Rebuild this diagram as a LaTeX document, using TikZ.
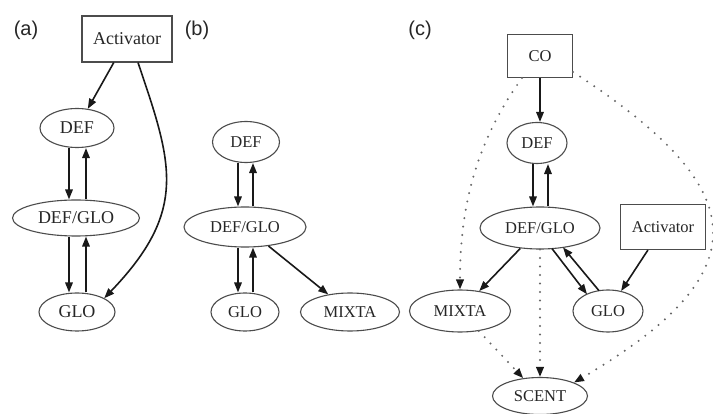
\documentclass[tikz,border=0pt]{standalone}
\usepackage{fontspec}
\setmainfont{Liberation Serif}
\newfontfamily\labfont{Liberation Sans}
\usetikzlibrary{arrows.meta,shapes.geometric,calc}
\begin{document}
\begin{tikzpicture}[x=1pt,y=-1pt,
  every node/.style={inner sep=0pt, text=black!85},
  ell/.style={ellipse, draw=black!70, line width=1.1pt, font=\fontsize{16.5}{18}\selectfont},
  box/.style={rectangle, draw=black!70, line width=1.1pt, font=\fontsize{16.5}{18}\selectfont},
  big/.style={font=\fontsize{18}{20}\selectfont},
  edge/.style={draw=black!90, line width=1.6pt, -{Triangle[length=10pt,width=7.5pt]}},
  dot/.style={draw=black!60, line width=2.2pt, line cap=round, dash pattern=on 0pt off 8.5pt, -{Triangle[length=10pt,width=7.5pt,color=black!90]}},
  lab/.style={font=\labfont\fontsize{20}{22}\selectfont, text=black!85}
]
\fill[white] (0,0) rectangle (713,414);
\useasboundingbox (0,0) rectangle (713,414);

% labels
\node[lab] (la) at (26,30) {(a)};
\node[lab] (lb) at (197,30) {(b)};
\node[lab] (lc) at (420,30) {(c)};

% ---- panel (a)
\node[box,big,minimum width=90,minimum height=46] (actA) at (127,39) {Activator};
\node[ell,big,minimum width=74,minimum height=39] (defA) at (77,128) {DEF};
\node[ell,big,minimum width=127,minimum height=36] (dgA) at (76,218) {DEF/GLO};
\node[ell,big,minimum width=76,minimum height=38] (gloA) at (77,312) {GLO};

\draw[edge] (actA) -- (defA);
\draw[edge] ([xshift=11pt]actA.south) .. controls (172,163) and (189,210) .. (gloA.north east);
\draw[edge] ([xshift=-8pt]defA.south) -- ([xshift=-7pt]dgA.north);
\draw[edge] ([xshift=10pt]dgA.north) -- ([xshift=9pt]defA.south);
\draw[edge] ([xshift=-7pt]dgA.south) -- ([xshift=-8pt]gloA.north);
\draw[edge] ([xshift=9pt]gloA.north) -- ([xshift=10pt]dgA.south);

% ---- panel (b)
\node[ell,minimum width=67,minimum height=41] (defB) at (246,142) {DEF};
\node[ell,minimum width=122,minimum height=40] (dgB) at (245,227) {DEF/GLO};
\node[ell,minimum width=68,minimum height=38] (gloB) at (245,312) {GLO};
\node[ell,minimum width=99,minimum height=38] (mixB) at (350,312) {MIXTA};

\draw[edge] ([xshift=-8pt]defB.south) -- ([xshift=-7pt]dgB.north);
\draw[edge] ([xshift=8pt]dgB.north) -- ([xshift=7pt]defB.south);
\draw[edge] ([xshift=-7pt]dgB.south) -- ([xshift=-7pt]gloB.north);
\draw[edge] ([xshift=8pt]gloB.north) -- ([xshift=8pt]dgB.south);
\draw[edge] (dgB) -- (mixB);

% ---- panel (c)
\node[box,minimum width=65,minimum height=43] (coC) at (540,56) {CO};
\node[ell,minimum width=60,minimum height=41] (defC) at (537,143) {DEF};
\node[ell,minimum width=120,minimum height=42] (dgC) at (540,228) {DEF/GLO};
\node[box,minimum width=85,minimum height=45] (actC) at (663,227) {Activator};
\node[ell,minimum width=101,minimum height=42] (mixC) at (460,311) {MIXTA};
\node[ell,minimum width=70,minimum height=42] (gloC) at (608,311) {GLO};
\node[ell,minimum width=95,minimum height=37] (scC) at (540,396) {SCENT};

\draw[edge] (coC.south) -- (coC.south |- defC.north);
\draw[edge] ([xshift=-4pt]defC.south) -- ([xshift=-7pt]dgC.north);
\draw[edge] ([xshift=8pt]dgC.north) -- ([xshift=11pt]defC.south);
\draw[edge] (dgC) -- (mixC);
\draw[edge] ($(dgC)+(12,20.6)$) -- ($(gloC)+(-21,-16.8)$);
\draw[edge] ($(gloC)+(-9,-20.3)$) -- ($(dgC)+(23,19.4)$);
\draw[edge] (actC) -- (gloC);

\draw[dot] ([xshift=-18pt]coC.south) .. controls (470,150) and (460,220) .. (mixC.north);
\draw[dot] ([yshift=-16pt]coC.east) .. controls (748,186) and (768,269) .. (scC.north east);
\draw[dot] (dgC.south) -- (scC.north);
\draw[dot] (mixC) -- (scC);
\end{tikzpicture}
\end{document}
